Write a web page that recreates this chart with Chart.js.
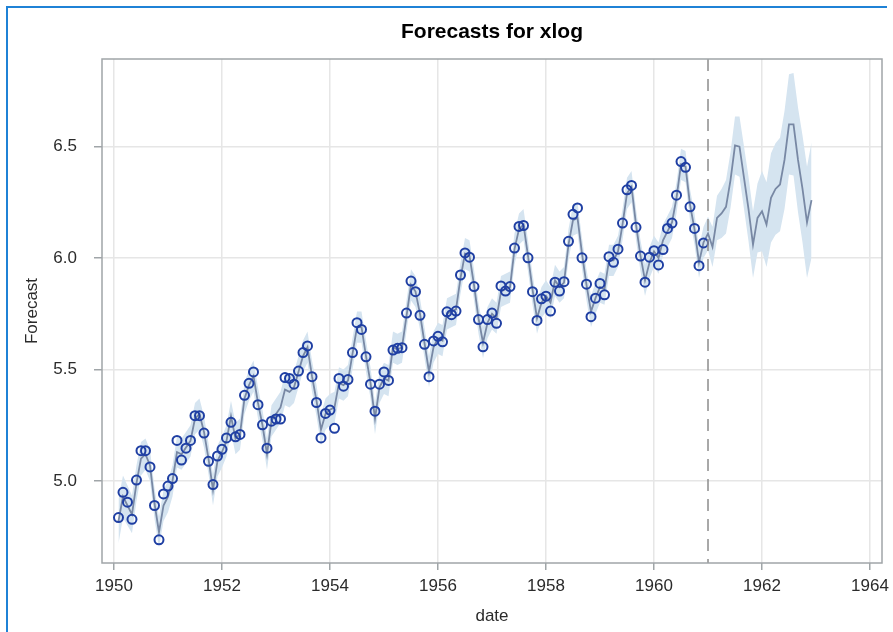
<!DOCTYPE html>
<html>
<head>
<meta charset="utf-8">
<title>Forecasts for xlog</title>
<script src="https://cdn.jsdelivr.net/npm/chart.js@4.4.1/dist/chart.umd.min.js"></script>
<style>
  body { margin: 0; background: #fff; }
  #wrap { position: relative; width: 893px; height: 632px; overflow: hidden; }
  #forecastChart { position: absolute; left: 0; top: 0; }
  #frame { position: absolute; left: 6px; top: 6px; width: 879px; height: 640px;
           border-left: 2px solid #1f82d6; border-top: 2px solid #1f82d6; pointer-events: none; }
</style>
</head>
<body>
<div id="wrap">
  <canvas id="forecastChart" width="893" height="632"></canvas>
  <div id="frame"></div>
</div>
<script>
// Data //

const firstYear = 1950, firstMonth = 2;   // first monthly observation: Feb 1950
const forecastStart = 1961;               // dashed line, start of lead period
const xTicks = [1950, 1952, 1954, 1956, 1958, 1960, 1962, 1964];
const yTicks = [5.0, 5.5, 6.0, 6.5];

// observed xlog, Feb 1950 .. Dec 1960
const actualLog = [
  4.836, 4.949, 4.905, 4.828, 5.004, 5.136, 5.136, 5.063, 4.890, 4.736, 4.942,
  4.977, 5.011, 5.182, 5.094, 5.147, 5.182, 5.293, 5.293, 5.215, 5.088, 4.984, 5.112,
  5.142, 5.193, 5.263, 5.198, 5.209, 5.384, 5.438, 5.489, 5.342, 5.252, 5.147, 5.268,
  5.278, 5.278, 5.464, 5.460, 5.434, 5.493, 5.576, 5.606, 5.468, 5.352, 5.193, 5.303,
  5.318, 5.236, 5.460, 5.425, 5.455, 5.576, 5.710, 5.680, 5.557, 5.434, 5.313, 5.434,
  5.489, 5.451, 5.587, 5.595, 5.598, 5.753, 5.897, 5.849, 5.743, 5.613, 5.468, 5.628,
  5.649, 5.624, 5.759, 5.746, 5.762, 5.924, 6.023, 6.004, 5.872, 5.724, 5.602, 5.724,
  5.753, 5.707, 5.875, 5.852, 5.872, 6.045, 6.142, 6.146, 6.001, 5.849, 5.720, 5.817,
  5.829, 5.762, 5.892, 5.852, 5.894, 6.075, 6.196, 6.225, 6.001, 5.883, 5.737, 5.820,
  5.886, 5.835, 6.006, 5.981, 6.040, 6.157, 6.306, 6.326, 6.138, 6.009, 5.892, 6.004,
  6.033, 5.969, 6.038, 6.133, 6.157, 6.282, 6.433, 6.407, 6.230, 6.133, 5.966, 6.068
];

// one step ahead forecasts, then lead forecasts Jan 1961 .. Dec 1962
const forecast = [
  4.82, 4.93, 4.89, 4.85, 4.99, 5.10, 5.12, 5.07, 4.90, 4.77, 4.89,
  4.93, 5.00, 5.13, 5.12, 5.15, 5.18, 5.28, 5.30, 5.22, 5.10, 4.96, 5.09,
  5.13, 5.18, 5.29, 5.19, 5.21, 5.37, 5.43, 5.47, 5.35, 5.25, 5.12, 5.27,
  5.30, 5.33, 5.41, 5.40, 5.42, 5.49, 5.56, 5.60, 5.47, 5.36, 5.23, 5.30,
  5.32, 5.33, 5.44, 5.43, 5.45, 5.57, 5.69, 5.69, 5.56, 5.44, 5.28, 5.42,
  5.46, 5.45, 5.60, 5.59, 5.60, 5.74, 5.88, 5.85, 5.75, 5.62, 5.49, 5.60,
  5.64, 5.63, 5.75, 5.76, 5.77, 5.91, 6.02, 6.01, 5.88, 5.73, 5.62, 5.71,
  5.75, 5.73, 5.85, 5.86, 5.87, 6.04, 6.13, 6.15, 6.01, 5.86, 5.73, 5.80,
  5.83, 5.80, 5.90, 5.87, 5.89, 6.06, 6.17, 6.18, 6.02, 5.88, 5.76, 5.82,
  5.87, 5.86, 5.99, 5.99, 6.03, 6.15, 6.29, 6.32, 6.15, 6.01, 5.90, 5.98,
  6.03, 6.00, 6.08, 6.12, 6.16, 6.27, 6.42, 6.41, 6.24, 6.13, 5.98, 6.07,
  6.11, 6.05, 6.18, 6.20, 6.23, 6.35, 6.505, 6.50, 6.36, 6.22, 6.06, 6.18,
  6.21, 6.15, 6.27, 6.31, 6.33, 6.44, 6.60, 6.60, 6.44, 6.31, 6.16, 6.26
];

// 95% confidence limits
const lower95 = [
  4.72, 4.835, 4.80, 4.765, 4.91, 5.025, 5.05, 5.00, 4.83, 4.70, 4.82,
  4.86, 4.93, 5.06, 5.05, 5.08, 5.11, 5.21, 5.23, 5.15, 5.03, 4.89, 5.02,
  5.06, 5.11, 5.22, 5.12, 5.14, 5.30, 5.36, 5.40, 5.28, 5.18, 5.05, 5.20,
  5.23, 5.26, 5.34, 5.33, 5.35, 5.42, 5.49, 5.53, 5.40, 5.29, 5.16, 5.23,
  5.25, 5.26, 5.37, 5.36, 5.38, 5.50, 5.62, 5.62, 5.49, 5.37, 5.21, 5.35,
  5.39, 5.38, 5.53, 5.52, 5.53, 5.67, 5.81, 5.78, 5.68, 5.55, 5.42, 5.53,
  5.57, 5.56, 5.68, 5.69, 5.70, 5.84, 5.95, 5.94, 5.81, 5.66, 5.55, 5.64,
  5.68, 5.66, 5.78, 5.79, 5.80, 5.97, 6.06, 6.08, 5.94, 5.79, 5.66, 5.73,
  5.76, 5.73, 5.83, 5.80, 5.82, 5.99, 6.10, 6.11, 5.95, 5.81, 5.69, 5.75,
  5.80, 5.79, 5.92, 5.92, 5.96, 6.08, 6.22, 6.25, 6.08, 5.94, 5.83, 5.91,
  5.96, 5.93, 6.01, 6.05, 6.09, 6.20, 6.35, 6.34, 6.17, 6.06, 5.91, 6.00,
  6.035, 5.96, 6.08, 6.09, 6.11, 6.225, 6.375, 6.365, 6.22, 6.075, 5.91, 6.025,
  6.03, 5.96, 6.07, 6.105, 6.12, 6.22, 6.375, 6.37, 6.205, 6.07, 5.91, 6.00
];
const upper95 = [
  4.92, 5.025, 4.98, 4.935, 5.07, 5.175, 5.19, 5.14, 4.97, 4.84, 4.96,
  5.00, 5.07, 5.20, 5.19, 5.22, 5.25, 5.35, 5.37, 5.29, 5.17, 5.03, 5.16,
  5.20, 5.25, 5.36, 5.26, 5.28, 5.44, 5.50, 5.54, 5.42, 5.32, 5.19, 5.34,
  5.37, 5.40, 5.48, 5.47, 5.49, 5.56, 5.63, 5.67, 5.54, 5.43, 5.30, 5.37,
  5.39, 5.40, 5.51, 5.50, 5.52, 5.64, 5.76, 5.76, 5.63, 5.51, 5.35, 5.49,
  5.53, 5.52, 5.67, 5.66, 5.67, 5.81, 5.95, 5.92, 5.82, 5.69, 5.56, 5.67,
  5.71, 5.70, 5.82, 5.83, 5.84, 5.98, 6.09, 6.08, 5.95, 5.80, 5.69, 5.78,
  5.82, 5.80, 5.92, 5.93, 5.94, 6.11, 6.20, 6.22, 6.08, 5.93, 5.80, 5.87,
  5.90, 5.87, 5.97, 5.94, 5.96, 6.13, 6.24, 6.25, 6.09, 5.95, 5.83, 5.89,
  5.94, 5.93, 6.06, 6.06, 6.10, 6.22, 6.36, 6.39, 6.22, 6.08, 5.97, 6.05,
  6.10, 6.07, 6.15, 6.19, 6.23, 6.34, 6.49, 6.48, 6.31, 6.20, 6.05, 6.14,
  6.185, 6.14, 6.28, 6.31, 6.35, 6.475, 6.635, 6.635, 6.50, 6.365, 6.21, 6.335,
  6.39, 6.34, 6.47, 6.515, 6.54, 6.66, 6.825, 6.83, 6.675, 6.55, 6.41, 6.52
];

// monthly dates as decimal years
const dates = forecast.map((_, i) => {
  const m = firstMonth - 1 + i;
  return firstYear + Math.floor(m / 12) + (m % 12) / 12;
});
const toPoints = arr => arr.map((v, i) => ({ x: dates[i], y: v }));

// Styles //

const fontFamily = '"Liberation Sans", Arial, Helvetica, sans-serif';
const tickFont = { family: fontFamily, size: 17 };
const gridColor = '#e6e6e6';
const axisColor = '#a0a5a8';

// title, plot frame and reference line
const decorPlugin = {
  id: 'decor',
  afterDatasetsDraw(chart) {
    const { ctx, chartArea: a, scales } = chart;
    const x = scales.x.getPixelForValue(forecastStart);
    ctx.save();
    ctx.strokeStyle = '#8c8c8c';
    ctx.lineWidth = 1.5;
    ctx.setLineDash([12, 8]);
    ctx.beginPath();
    ctx.moveTo(x, a.top);
    ctx.lineTo(x, a.bottom);
    ctx.stroke();
    ctx.restore();
  },
  afterDraw(chart) {
    const { ctx, chartArea: a } = chart;
    ctx.save();
    ctx.strokeStyle = axisColor;
    ctx.lineWidth = 1.5;
    ctx.strokeRect(a.left, a.top, a.right - a.left, a.bottom - a.top);
    ctx.fillStyle = '#000';
    ctx.font = 'bold 21px ' + fontFamily;
    ctx.textAlign = 'center';
    ctx.textBaseline = 'middle';
    ctx.fillText('Forecasts for xlog', (a.left + a.right) / 2, 32);
    ctx.restore();
  }
};

// Chart //

let forecastChart = null;

document.addEventListener("DOMContentLoaded", () => {
  const ctx = document.querySelector('#forecastChart').getContext('2d');
  forecastChart = new Chart(ctx, {
    type: 'line',
    data: {
      datasets: [
        {
          label: 'Lower 95%',
          data: toPoints(lower95),
          order: 3,
          borderWidth: 0,
          pointRadius: 0,
          fill: false,
          tension: 0
        },
        {
          label: '95% Confidence Limits',
          data: toPoints(upper95),
          order: 3,
          borderWidth: 0,
          pointRadius: 0,
          backgroundColor: '#d5e4f0',
          fill: '-1',
          tension: 0
        },
        {
          label: 'Forecast',
          data: toPoints(forecast),
          order: 2,
          borderColor: '#7888a4',
          borderWidth: 1.8,
          pointRadius: 0,
          fill: false,
          tension: 0
        },
        {
          label: 'Actual',
          data: toPoints(actualLog),
          order: 1,
          showLine: false,
          pointStyle: 'circle',
          pointRadius: 4.5,
          pointBorderWidth: 2,
          pointBorderColor: '#1f3fa3',
          pointBackgroundColor: 'rgba(255,255,255,0)'
        }
      ]
    },
    options: {
      responsive: false,
      animation: false,
      events: [],
      layout: { padding: { left: 0, right: 11, top: 59, bottom: 0 } },
      plugins: {
        legend: { display: false },
        title: { display: false },
        tooltip: { enabled: false }
      },
      scales: {
        x: {
          type: 'linear',
          min: 1949.778,
          max: 1964.222,
          afterBuildTicks: s => { s.ticks = xTicks.map(v => ({ value: v })); },
          afterFit: s => { s.height = 69; s.paddingLeft = 0; s.paddingRight = 0; },
          ticks: { callback: v => String(v), font: tickFont, color: '#2b2b2b', padding: 6, maxRotation: 0, autoSkip: false },
          grid: { color: gridColor, lineWidth: 1.5, tickLength: 7, tickColor: axisColor, tickWidth: 1.5 },
          border: { display: false },
          title: { display: true, text: 'date', font: tickFont, color: '#2b2b2b', padding: { top: 0, bottom: 5 } }
        },
        y: {
          type: 'linear',
          min: 4.632,
          max: 6.893,
          afterBuildTicks: s => { s.ticks = yTicks.map(v => ({ value: v })); },
          afterFit: s => { s.width = 102; s.paddingTop = 0; s.paddingBottom = 0; },
          ticks: { callback: v => v.toFixed(1), font: tickFont, color: '#2b2b2b', padding: 17 },
          grid: { color: gridColor, lineWidth: 1.5, tickLength: 8, tickColor: axisColor, tickWidth: 1.5 },
          border: { display: false },
          title: { display: true, text: 'Forecast', font: tickFont, color: '#2b2b2b', padding: { top: 22, bottom: 0 } }
        }
      }
    },
    plugins: [decorPlugin]
  });
});
</script>
</body>
</html>
